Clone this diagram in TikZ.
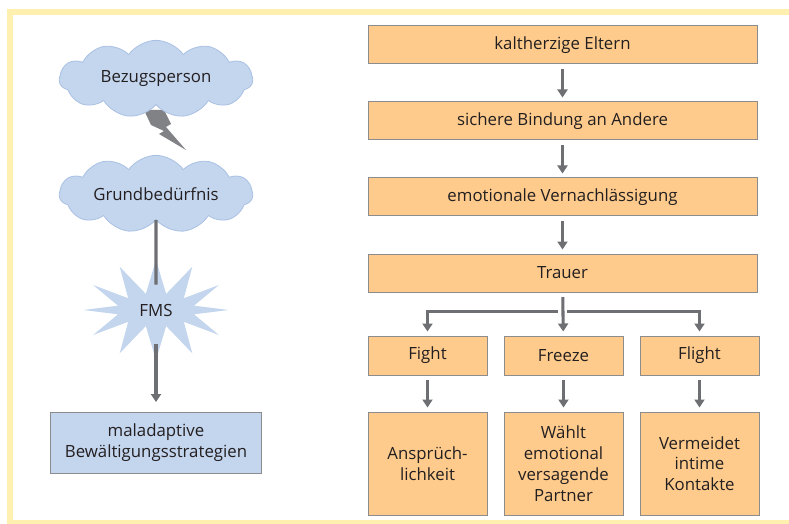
\documentclass[tikz,border=0pt]{standalone}
\usepackage{fontspec}
\setmainfont{Open Sans}
\usetikzlibrary{shapes.geometric, shapes.symbols, arrows.meta, positioning}
\definecolor{boxorange}{HTML}{FECB8C}
\definecolor{boxblue}{HTML}{C4D5EE}
\definecolor{cloudline}{HTML}{A9C1E3}
\definecolor{edgegray}{HTML}{8C8C8E}
\definecolor{arrowgray}{HTML}{6E6F73}
\definecolor{boltgray}{HTML}{808285}
\definecolor{framey}{HTML}{FFF0B0}
\definecolor{textdark}{HTML}{231F20}
\tikzstyle{chainbox} = [rectangle, minimum width=291.75pt, minimum height=28.5pt, text centered, draw=edgegray, fill=boxorange, line width=0.75pt]
\tikzstyle{reaction} = [rectangle, minimum width=89.25pt, minimum height=29.25pt, text centered, draw=edgegray, fill=boxorange, line width=0.75pt]
\tikzstyle{outcome} = [rectangle, minimum width=89.25pt, minimum height=77.25pt, align=center, draw=edgegray, fill=boxorange, line width=0.75pt]
\tikzstyle{cloudbox} = [cloud, cloud puffs=11, cloud puff arc=110, cloud ignores aspect, minimum width=145pt, minimum height=58pt, draw=cloudline, fill=boxblue, line width=0.6pt]
\tikzstyle{burst} = [starburst, starburst points=12, starburst point height=25pt, random starburst=0, minimum width=109pt, minimum height=75pt, fill=boxblue]
\tikzstyle{strategy} = [rectangle, minimum width=158.25pt, minimum height=45.75pt, align=center, draw=edgegray, fill=boxblue, line width=0.75pt]
\tikzstyle{link} = [line width=2.3pt, draw=arrowgray]
\tikzstyle{arrow} = [link, -{Triangle[width=7.5pt,length=6pt]}, shorten <=3.5pt, shorten >=3pt]
\tikzstyle{frame} = [line width=4.5pt, draw=framey]

\begin{document}
\begin{tikzpicture}[x=0.75pt, y=-0.75pt, node distance=27.75pt, font=\fontsize{12.6}{15.6}\selectfont, text=textdark]
\useasboundingbox (0,0) rectangle (789,524);
\draw [frame] (789,12) -| (10,523) -- (789,523);

% left: Bezugsperson -> FMS -> Strategien
\fill [boltgray] (144,110) -- (164,110) -- (171,124) -- (166,127) -- (186,150) -- (159,134) -- (164,131) -- (151,125) -- cycle;
\node (bezug) [cloudbox] at (156,79) {Bezugsperson};
\node (grund) [cloudbox] at (156,194) {Grundbedürfnis};
\node (fms) [burst] at (156,310) {FMS};
\node (coping) [strategy] at (156,443) {maladaptive\\Bewältigungsstrategien};

% right: Kette
\node (eltern) [chainbox] at (562.5,45) {kaltherzige Eltern};
\node (bindung) [chainbox, below=of eltern] {sichere Bindung an Andere};
\node (vernachl) [chainbox, below=of bindung] {emotionale Vernachlässigung};
\node (trauer) [chainbox, below=of vernachl] {Trauer};

\node (fight) [reaction, below right=32.25pt and 0pt of trauer.south west] {Fight};
\node (freeze) [reaction, right=12pt of fight] {Freeze};
\node (flight) [reaction, right=12pt of freeze] {Flight};
\coordinate [below=14.25pt of trauer] (split);

\node (anspruch) [outcome, below=27pt of fight] {Ansprüch-\\lichkeit};
\node (partner) [outcome, below=27pt of freeze] {Wählt\\emotional\\versagende\\Partner};
\node (kontakte) [outcome, below=27pt of flight] {Vermeidet\\intime\\Kontakte};

\draw [link, shorten >=19pt] (grund) -- (fms.center);
\draw [arrow, shorten <=25.5pt, shorten >=7.5pt] (fms.center) -- (coping);

\draw [arrow] (eltern) -- (bindung);
\draw [arrow] (bindung) -- (vernachl);
\draw [arrow] (vernachl) -- (trauer);
\draw [arrow] (trauer) -- (freeze);
\draw [arrow] (split) -| (fight);
\draw [arrow] (split) -| (flight);
\draw [arrow] (fight) -- (anspruch);
\draw [arrow] (freeze) -- (partner);
\draw [arrow] (flight) -- (kontakte);
\end{tikzpicture}
\end{document}
